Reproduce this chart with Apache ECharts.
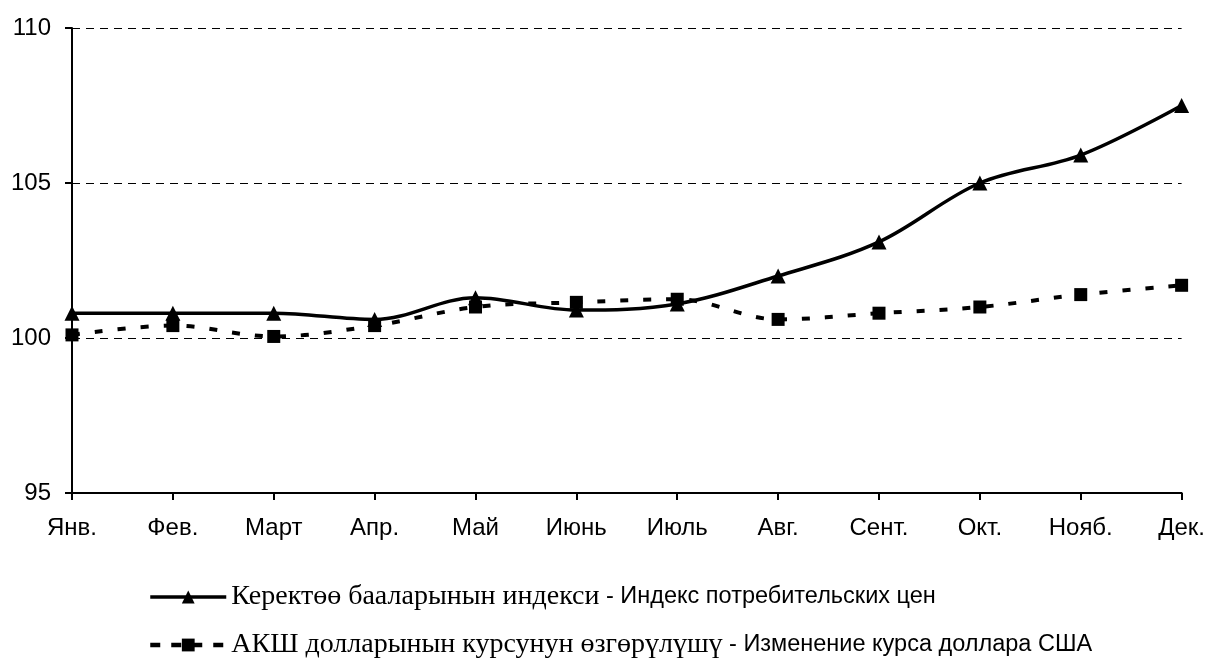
<!DOCTYPE html>
<html>
<head>
<meta charset="utf-8">
<script src="https://cdn.jsdelivr.net/npm/echarts@6/dist/echarts.min.js"></script>
<style>
  html, body { margin: 0; padding: 0; background: #fff; }
  #chart { width: 1208px; height: 669px; }
</style>
</head>
<body>
<div id="chart"></div>
<script>
const months = ["Янв.", "Фев.", "Март", "Апр.", "Май", "Июнь", "Июль", "Авг.", "Сент.", "Окт.", "Нояб.", "Дек."];
const cpiValues = [100.8, 100.8, 100.8, 100.6, 101.3, 100.9, 101.1, 102.0, 103.1, 105.0, 105.9, 107.5];
const usdValues = [100.1, 100.4, 100.05, 100.4, 101.0, 101.15, 101.25, 100.6, 100.8, 101.0, 101.4, 101.7];
const seriesKg = ["Керектөө бааларынын индекси", "АКШ долларынын курсунун өзгөрүлүшү"];
const seriesRu = ["Индекс потребительских цен", "Изменение курса доллара США"];
const yMin = 95, yMax = 110, yStep = 5;

const names = seriesKg.map((kg, i) => kg + " - " + seriesRu[i]);
const sans = "'Liberation Sans', Arial, sans-serif";
const serif = "'Liberation Serif', 'Times New Roman', serif";

const chart = echarts.init(document.getElementById("chart"), null, { renderer: "canvas" });
chart.setOption({
  animation: false,
  backgroundColor: "#fff",
  grid: { left: 72, right: 25, top: 28, bottom: 176, containLabel: false },
  legend: {
    orient: "vertical",
    left: 143,
    top: 578,
    itemWidth: 76,
    itemHeight: 16,
    itemGap: 20,
    data: [
      { name: names[0], lineStyle: { width: 3.5, type: "solid" } },
      { name: names[1], lineStyle: { width: 4.5, type: [10, 11] } }
    ],
    formatter: name => {
      const i = names.indexOf(name);
      return "{a|" + seriesKg[i] + "}{b| - " + seriesRu[i] + "}";
    },
    textStyle: {
      color: "#000",
      rich: {
        a: { fontFamily: serif, fontSize: 28, color: "#000", lineHeight: 30 },
        b: { fontFamily: sans, fontSize: 23.5, color: "#000", lineHeight: 30 }
      }
    }
  },
  xAxis: {
    type: "category",
    data: months,
    boundaryGap: false,
    axisLine: { lineStyle: { color: "#000", width: 2 } },
    axisTick: { show: true, length: 7, lineStyle: { color: "#000", width: 2 } },
    axisLabel: { color: "#000", fontFamily: sans, fontSize: 24, margin: 23 },
    splitLine: { show: false }
  },
  yAxis: {
    type: "value",
    min: yMin,
    max: yMax,
    interval: yStep,
    axisLine: { show: true, lineStyle: { color: "#000", width: 2 } },
    axisTick: { show: true, length: 7, lineStyle: { color: "#000", width: 2 } },
    axisLabel: { color: "#000", fontFamily: sans, fontSize: 24, margin: 21 },
    splitLine: { show: true, lineStyle: { color: "#000", width: 1, type: [8, 6] } }
  },
  series: [
    {
      name: names[0],
      type: "line",
      data: cpiValues,
      smooth: 0.35,
      symbol: "triangle",
      symbolSize: 15,
      z: 3,
      itemStyle: { color: "#000" },
      lineStyle: { color: "#000", width: 3.5, type: "solid" }
    },
    {
      name: names[1],
      type: "line",
      data: usdValues,
      smooth: 0.35,
      symbol: "rect",
      symbolSize: 13,
      z: 4,
      itemStyle: { color: "#000" },
      lineStyle: { color: "#000", width: 4, type: [8, 15] }
    }
  ]
});
</script>
</body>
</html>
